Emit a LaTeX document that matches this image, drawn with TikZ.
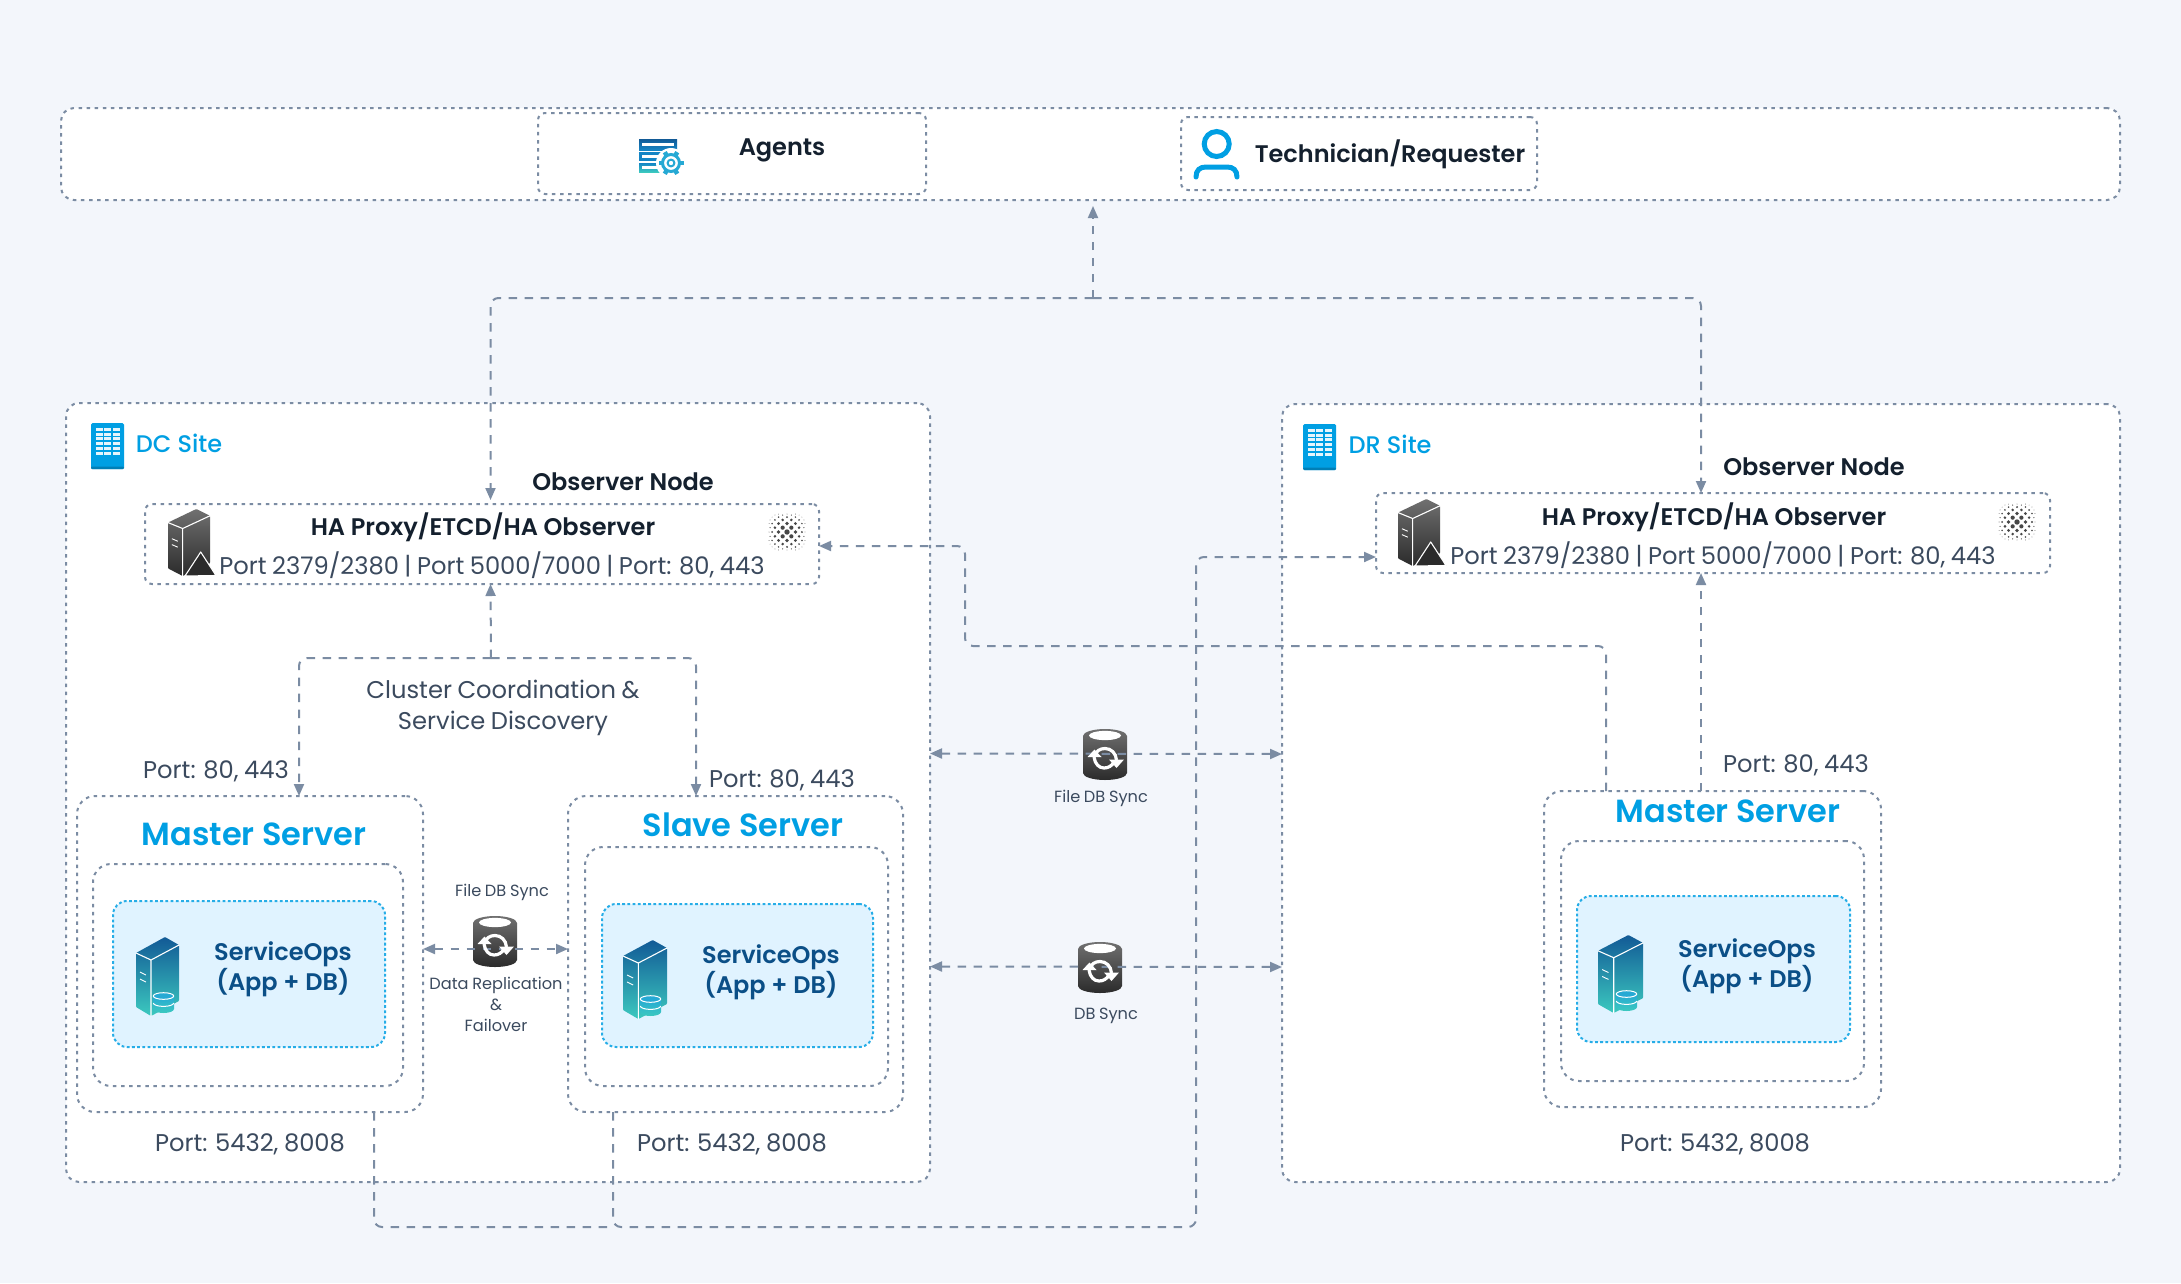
\documentclass[tikz,border=0pt]{standalone}
\usepackage{fontspec}
\setmainfont{Poppins}[WordSpace=0.85]
\newfontfamily\popmed{Poppins Medium}
\newfontfamily\popsemi{Poppins SemiBold}
\usetikzlibrary{arrows.meta,calc}
\definecolor{pagebg}{HTML}{F3F6FB}
\definecolor{edge}{HTML}{7B8CA3}
\definecolor{ink}{HTML}{14202E}
\definecolor{slate}{HTML}{3B4A5E}
\definecolor{sky}{HTML}{009FE3}
\definecolor{navy}{HTML}{0B4F87}
\definecolor{paleblue}{HTML}{E0F3FF}
\definecolor{dbtop}{HTML}{26A9D4}
\definecolor{dbbot}{HTML}{3CC9BF}
\definecolor{towerA}{HTML}{125A96}
\definecolor{towerB}{HTML}{1585C5}
\definecolor{towerC}{HTML}{3CC9BF}
\definecolor{greyA}{HTML}{707070}
\definecolor{greyB}{HTML}{555555}
\definecolor{greyC}{HTML}{2B2B2B}
\tikzset{
  frame/.style={draw=edge,fill=white,line width=2pt,dash pattern=on 3.5pt off 4.6pt,rounded corners=13pt,anchor=north west,inner sep=0pt,outer sep=0pt},
  smallframe/.style={frame,rounded corners=7pt},
  bluepanel/.style={frame,draw=sky!85!white,fill=paleblue,dash pattern=on 2.8pt off 2.4pt,rounded corners=14pt},
  link/.style={draw=edge,line width=2pt,dash pattern=on 8.5pt off 7.5pt,rounded corners=8pt},
  headtip/.style={-{Triangle[length=12pt,width=10pt,fill=edge]}},
  bothtip/.style={{Triangle[length=12pt,width=10pt,fill=edge]}-{Triangle[length=12pt,width=10pt,fill=edge]}},
  porttext/.style={text=slate,font=\fontsize{24.2}{30.5}\selectfont,inner sep=0pt},
  smalltext/.style={text=slate,font=\fontsize{16.2}{21}\selectfont,inner sep=0pt,align=center},
  heading/.style={text=ink,font=\popsemi\fontsize{24}{30}\selectfont,inner sep=0pt},
  servertitle/.style={text=sky,font=\popsemi\fontsize{32}{40}\selectfont,inner sep=0pt},
  sitetitle/.style={text=sky,font=\popmed\fontsize{24}{30}\selectfont,inner sep=0pt},
  apptext/.style={text=navy,font=\popsemi\fontsize{24}{30.5}\selectfont,inner sep=0pt,align=center},
}
% tower icon: x,y of top left of box, width, height, three gradient colours
\newcommand\towericon[7]{%
  \begin{scope}[shift={(#1,#2)},x=#3pt/43,y=-#4pt/79]
    \path[top color=#5,middle color=#6,bottom color=#7,rounded corners=0.8pt]
      (0,16)--(29,0)--(43,8)--(43,64)--(15,79)--(0,70)--cycle;
    \draw[white,line width=1.1pt,line join=round] (0,16)--(15,23)--(43,8) (15,23)--(15,79);
    \draw[white,line width=.9pt] (4,35)--(10,38) (4,42)--(10,45);
  \end{scope}}
% small database in front of a tower
\newcommand\dbmark[2]{%
  \begin{scope}[shift={(#1,#2)}]
    \path[top color=dbtop,bottom color=dbbot] (0,4)--(0,17) arc[start angle=180,end angle=0,x radius=10.5,y radius=4]--(21,4)--cycle;
    \fill[dbtop] (10.5,4) ellipse[x radius=10.5,y radius=3.4];
    \draw[white,line width=1pt] (10.5,4) ellipse[x radius=10.2,y radius=3.3];
    \draw[white,line width=1pt] (0.3,11) arc[start angle=180,end angle=0,x radius=10.2,y radius=3.4];
  \end{scope}}
% dark server with triangle
\newcommand\darkserver[2]{%
  \towericon{#1}{#2}{42}{67}{greyA}{greyB}{greyC}
  \begin{scope}[shift={(#1,#2)}]
    \draw[white,fill=greyC,line width=1.1pt,line join=round] (32.7,43)--(17,67)--(48,66.5)--cycle;
  \end{scope}}
% sync drum body and arrows, x,y = top left, 44 x 51
\newcommand\syncbody[2]{%
  \begin{scope}[shift={(#1,#2)}]
    \path[top color=greyA,bottom color=greyC] (0,7) arc[start angle=180,end angle=360,x radius=22,y radius=7]--(44,44) arc[start angle=0,end angle=180,x radius=22,y radius=7]--cycle;
    \fill[white] (22,6.5) ellipse[x radius=16,y radius=4.6];
  \end{scope}}
\newcommand\syncarrows[2]{%
  \begin{scope}[shift={(#1,#2)}]
    \draw[white,line width=3.2pt] (12,27) .. controls (13,22) and (17,19.5) .. (22,19.5) .. controls (28,19.5) and (33,24) .. (33.5,31);
    \draw[white,line width=3.2pt] (31,33) .. controls (29,37) and (25,39) .. (21,39) .. controls (16,39) and (12,35) .. (11,28);
    \fill[white] (26,30.5)--(41,30.5)--(33.5,39)--cycle;
    \fill[white] (4.5,28)--(18.5,28)--(11.5,20.5)--cycle;
  \end{scope}}
% building icon
\newcommand\buildingicon[2]{%
  \begin{scope}[shift={(#1,#2)}]
    \fill[sky,rounded corners=1.5pt] (0,0) rectangle (33,46);
    \fill[sky!80!black,rounded corners=1pt] (0,43.7) rectangle (33,46);
    \foreach \cc in {4.5,13,21.7}{\foreach \rr in {0,...,5}{
      \fill[white,opacity=.9] (\cc,{5+\rr*4.7}) rectangle +(7,3);}}
  \end{scope}}
% halftone ball
\newcommand\ballicon[2]{%
  \begin{scope}[shift={(#1,#2)}]
    \foreach \i in {-6,...,6}{\foreach \j in {-6,...,6}{
      \pgfmathsetmacro\dd{sqrt(\i*\i+\j*\j)}
      \pgfmathtruncatemacro\ok{(\dd<6.6) && (mod(\i+\j+12,2)==0)}
      \ifnum\ok=1
        \pgfmathsetmacro\rad{max(0.4,2.7*(1-\dd/6.6))}
        \fill[black!72] ({18*sin(\i*14)},{18*sin(\j*14)}) circle (\rad pt);
      \fi}}
  \end{scope}}
\begin{document}
\begin{tikzpicture}[x=1pt,y=-1pt]
\useasboundingbox[fill=pagebg] (0,0) rectangle (2181,1283);
% containers
\node[frame,minimum width=2059pt,minimum height=92pt] (topbar) at (61,108) {};
\node[smallframe,minimum width=388pt,minimum height=81pt] (agentsbox) at (538,113) {};
\node[smallframe,minimum width=356pt,minimum height=73pt] (techbox) at (1181,117) {};
\node[frame,minimum width=864pt,minimum height=779pt] (dcsite) at (66,403) {};
\node[frame,minimum width=838pt,minimum height=778pt] (drsite) at (1282,404) {};
\node[smallframe,minimum width=674pt,minimum height=80pt] (dcobs) at (145,504) {};
\node[smallframe,minimum width=674pt,minimum height=80pt] (drobs) at (1376,493) {};
\node[frame,rounded corners=18pt,minimum width=346pt,minimum height=316pt] (dcmaster) at (77,796) {};
\node[frame,rounded corners=18pt,minimum width=310pt,minimum height=222pt] (dcmasterin) at (93,864) {};
\node[bluepanel,minimum width=272pt,minimum height=146pt] (dcmasterapp) at (113,901) {};
\node[frame,rounded corners=18pt,minimum width=335pt,minimum height=316pt] (slave) at (568,796) {};
\node[frame,rounded corners=18pt,minimum width=303pt,minimum height=239pt] (slavein) at (585,847) {};
\node[bluepanel,minimum width=271pt,minimum height=143pt] (slaveapp) at (602,904) {};
\node[frame,rounded corners=18pt,minimum width=337pt,minimum height=316pt] (drmaster) at (1544,791) {};
\node[frame,rounded corners=18pt,minimum width=303pt,minimum height=240pt] (drmasterin) at (1561,841) {};
\node[bluepanel,minimum width=273pt,minimum height=146pt] (drmasterapp) at (1577,896) {};
% drum bodies sit under the sync lines
\syncbody{473}{916}
\syncbody{1083}{729}
\syncbody{1078}{942}
% connectors
\coordinate (uphub) at (1093,298);
\coordinate (clusterhub) at (491,658);
\coordinate (crossbend) at (965,646);
\coordinate (busjoin) at (613,1227);
\coordinate (busbend) at (1196,1227);
\draw[link,headtip,shorten >=6pt] (uphub) -- (uphub |- topbar.south);
\draw[link,headtip,shorten >=4pt] (uphub) -| ([xshift=8.5pt]dcobs.north);
\draw[link,headtip] (uphub) -| ([xshift=-12pt]drobs.north);
\draw[link,headtip] (clusterhub) -- ([xshift=8.5pt]dcobs.south);
\draw[link,headtip] (clusterhub) -| ([xshift=49pt]dcmaster.north);
\draw[link,headtip] (clusterhub) -| ([xshift=-39.5pt]slave.north);
\draw[link,headtip] ([xshift=-106.5pt]drmaster.north) |- (crossbend) |- ([yshift=-2pt]dcobs.east);
\draw[link,headtip] ([xshift=-11.5pt]drmaster.north) -- ([xshift=-12pt]drobs.south);
\draw[link] ([xshift=124pt]dcmaster.south) |- (busjoin);
\draw[link,headtip] ([xshift=-122.5pt]slave.south) |- (busbend) |- ([yshift=-24pt]drobs.west);
\draw[link,bothtip] ([yshift=5pt]dcmaster.east) -- ([yshift=5pt]slave.west);
\draw[link,bothtip] ([yshift=39pt]dcsite.east) -- ([yshift=39pt]drsite.west);
\draw[link,bothtip] ([yshift=-174pt]dcsite.east) -- ([yshift=-174pt]drsite.west);
\syncarrows{473}{916}
\syncarrows{1083}{729}
\syncarrows{1078}{942}
% top icons
\begin{scope}
  \path[top color=towerA,bottom color=towerB] (639,139) rectangle (677,150);
  \fill[white] (642,143) rectangle (674,146);
  \fill[towerB] (639,152) rectangle (662,161);
  \fill[white] (642,155) rectangle (662,158);
  \path[top color=towerB,bottom color=towerC] (639,163) rectangle (662,172);
  \fill[white] (642,166) rectangle (662,169);
  \fill[white] (671,163) circle (15);
  \foreach \aa in {0,60,...,300}{
    \draw[dbtop,line width=4.5pt] (671,163) ++(\aa:8) -- ++(\aa:4.5);}
  \draw[dbtop,line width=3pt] (671,163) circle (8.5);
  \draw[dbtop,line width=2pt] (671,163) circle (3.4);
\end{scope}
\draw[sky,line width=5pt] (1216.7,144) circle (12.5);
\draw[sky,line width=5pt,line cap=round] (1196,177) .. controls (1196,170) and (1200,167) .. (1206,167) -- (1227,167) .. controls (1233,167) and (1237,170) .. (1237,177);
\buildingicon{91}{423}
\buildingicon{1303}{424}
\darkserver{168}{509}
\darkserver{1398}{499}
\ballicon{787}{532}
\ballicon{2017}{522}
\towericon{136}{937}{43}{79}{towerA}{towerB}{towerC}
\towericon{623}{940}{44}{79}{towerA}{towerB}{towerC}
\towericon{1598}{935}{45}{78}{towerA}{towerB}{towerC}
\dbmark{153}{992}
\dbmark{640}{995}
\dbmark{1616}{990}
% labels
\node[heading] (agentslabel) at (782,150) {Agents};
\node[heading] (techlabel) at (1390,154) {Technician/Requester};
\node[sitetitle] (dclabel) at (179,443) {DC Site};
\node[sitetitle] (drlabel) at (1390,444) {DR Site};
\node[heading] (obsdc) at (623,482) {Observer Node};
\node[heading] (obsdr) at (1814,467) {Observer Node};
\node[heading] (hadc) at (483,527) {HA Proxy/ETCD/HA Observer};
\node[heading] (hadr) at (1714,517) {HA Proxy/ETCD/HA Observer};
\node[porttext] (portsdc) at (492,565) {Port 2379/2380 | Port 5000/7000 | Port: 80, 443};
\node[porttext] (portsdr) at (1723,555) {Port 2379/2380 | Port 5000/7000 | Port: 80, 443};
\node[porttext,align=center] (clusterlabel) at (503,708) {Cluster Coordination \&\\Service Discovery};
\node[porttext] (p80a) at (216,771) {Port: 80, 443};
\node[porttext] (p80b) at (782,780) {Port: 80, 443};
\node[porttext] (p80c) at (1796,765) {Port: 80, 443};
\node[porttext] (p54a) at (250,1144) {Port: 5432, 8008};
\node[porttext] (p54b) at (732,1144) {Port: 5432, 8008};
\node[porttext] (p54c) at (1715,1144) {Port: 5432, 8008};
\node[servertitle] (t1) at (254,834) {Master Server};
\node[servertitle] (t2) at (743,825) {Slave Server};
\node[servertitle] (t3) at (1728,811) {Master Server};
\node[apptext] (a1) at (283,969) {ServiceOps\\(App + DB)};
\node[apptext] (a2) at (771,972) {ServiceOps\\(App + DB)};
\node[apptext] (a3) at (1747,966) {ServiceOps\\(App + DB)};
\node[smalltext] (s1) at (502,892) {File DB Sync};
\node[smalltext] (s2) at (496,1004) {Data Replication\\[0pt]\&\\[0pt]Failover};
\node[smalltext] (s3) at (1101,798) {File DB Sync};
\node[smalltext] (s4) at (1106,1016) {DB Sync};
\end{tikzpicture}
\end{document}
